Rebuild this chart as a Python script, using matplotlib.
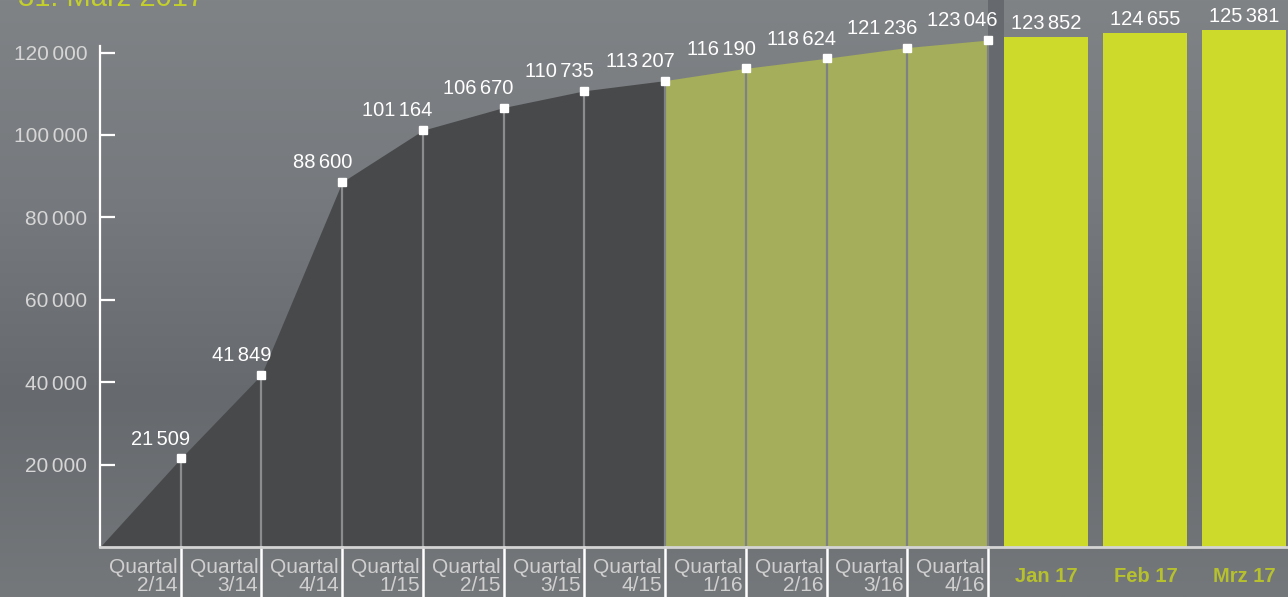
import numpy as np
import matplotlib
matplotlib.use('Agg')
import matplotlib.pyplot as plt
import matplotlib.transforms as mtransforms
from matplotlib.colors import LinearSegmentedColormap

plt.rcParams['font.family'] = ['Liberation Sans', 'DejaVu Sans']

# data
quarters = ['2/14', '3/14', '4/14', '1/15', '2/15', '3/15', '4/15',
            '1/16', '2/16', '3/16', '4/16']
quarter_values = [21509, 41849, 88600, 101164, 106670, 110735, 113207,
                  116190, 118624, 121236, 123046]
months = ['Jan 17', 'Feb 17', 'Mrz 17']
month_values = [123852, 124655, 125381]
yticks = [20000, 40000, 60000, 80000, 100000, 120000]


def fmt(v):
    # narrow gap as thousands separator
    return f'{v:,}'.replace(',', '\u2006')


W, H = 1288, 597
fig = plt.figure(figsize=(W / 100, H / 100), dpi=100)

# background gradient
bg = fig.add_axes([0, 0, 1, 1])
cmap = LinearSegmentedColormap.from_list('bg', ['#808386', '#76797d', '#66696d', '#75787b'])
grad = np.linspace(0, 1, 256).reshape(-1, 1)
bg.imshow(grad, aspect='auto', cmap=cmap, extent=[0, 1, 0, 1], origin='upper')
bg.axis('off')

# main axes: x unit = one quarter (80.73 px), origin at pixel 100
step = 80.73
left_px, base_px = 100, 547
ax = fig.add_axes([left_px / W, (H - base_px) / H, (W - left_px) / W, base_px / H])
ax.patch.set_alpha(0)
ax.set_xlim(0, (W - left_px) / step)
ax.set_ylim(0, base_px / 82.4 * 20000)

xq = np.arange(1, len(quarters) + 1)
x_all = np.concatenate([[0], xq])
v_all = np.concatenate([[0], quarter_values])

# dark area up to 4/15, olive area afterwards
ax.fill_between(x_all[:8], v_all[:8], color='#48494b', lw=0, zorder=1)
ax.fill_between(x_all[7:], v_all[7:], color='#a5ae5a', lw=0, zorder=1)
ax.axvspan(11, 11.2, color='#66696d', lw=0, zorder=0.5)

# vertical guide lines
for x, v in zip(xq, quarter_values):
    c = '#8a8c8e' if x < 7 else '#7f8285'
    ax.plot([x, x], [0, v], color=c, lw=1.6, zorder=2)

ax.plot(xq, quarter_values, 's', color='white', ms=6, zorder=4)
for x, v in zip(xq, quarter_values):
    ax.annotate(fmt(v), (x, v), xytext=(7, 7), textcoords='offset points',
                ha='right', va='bottom', color='white', fontsize=14.5, zorder=5)

# monthly bars
xm = [11.72, 12.95, 14.17]
ax.bar(xm, month_values, width=1.04, color='#cdd92b', lw=0, zorder=2)
for x, v in zip(xm, month_values):
    ax.annotate(fmt(v), (x, v), xytext=(0, 3), textcoords='offset points',
                ha='center', va='bottom', color='white', fontsize=14.5, zorder=5)

# axes styling
for s in ['top', 'right']:
    ax.spines[s].set_visible(False)
ax.spines['left'].set_color('white')
ax.spines['left'].set_linewidth(1.6)
ax.spines['left'].set_bounds(0, 121500)
ax.spines['bottom'].set_color('#d4d4d4')
ax.spines['bottom'].set_linewidth(2)
ax.spines['left'].set_zorder(6)
ax.spines['bottom'].set_zorder(6)

ax.set_yticks(yticks)
ax.set_yticklabels([fmt(t) for t in yticks])
ax.tick_params(axis='y', direction='in', length=11, width=1.6, color='white',
               labelcolor='#d6d6d6', labelsize=15, pad=9)
ax.set_xticks([])

# category labels below the baseline
trans = mtransforms.blended_transform_factory(ax.transData, ax.transAxes)
below = -50 / base_px
for x, q in zip(xq, quarters):
    ax.plot([x, x], [0, below], color='white', lw=1.8, transform=trans, clip_on=False)
    ax.text(x - 0.04, -11 / base_px, 'Quartal\n' + q, transform=trans, ha='right', va='top',
            color='#cfcfcf', fontsize=15, linespacing=0.92, multialignment='right')
for x, m in zip(xm, months):
    ax.text(x, -29 / base_px, m, transform=trans, ha='center', va='center',
            color='#b6c12d', fontsize=14.5, fontweight='bold',
            family=['Liberation Sans Narrow', 'Liberation Sans'])

fig.text(18 / W, 1 - 6 / H, '31. März 2017', color='#c3cf2c', fontsize=21,
         ha='left', va='baseline')

fig.savefig('out.png', dpi=100)
